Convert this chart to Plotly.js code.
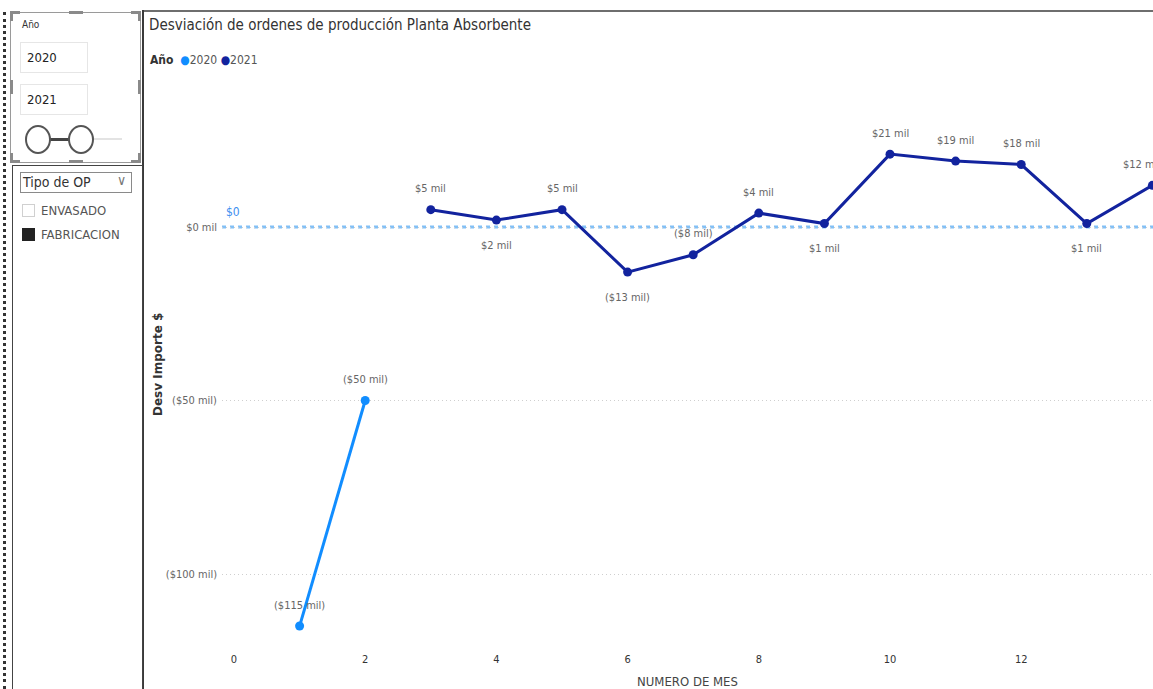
<!DOCTYPE html>
<html>
<head>
<meta charset="utf-8">
<script src="https://cdn.plot.ly/plotly-3.0.1.min.js"></script>
<style>
  html, body { margin:0; padding:0; background:#fff; width:1153px; height:689px; overflow:hidden; font-family:"DejaVu Sans Condensed","Liberation Sans Narrow",sans-serif; }
  #chart { position:absolute; left:0; top:0; width:1153px; height:689px; }
  .abs { position:absolute; box-sizing:border-box; }
  .txt { position:absolute; white-space:nowrap; }
</style>
</head>
<body>
<div id="chart"></div>

<!-- frame of the main visual -->
<div class="abs" style="left:143px; top:10px; width:1010px; height:2px; background:#6e6e6e;"></div>
<div class="abs" style="left:142px; top:10px; width:2px; height:679px; background:#3a3a3a;"></div>

<!-- dotted left border of the slicer panel -->
<div class="abs" style="left:3px; top:12px; width:0; height:677px; border-left:3px dotted #333;"></div>

<!-- slicer 1 : Año -->
<div class="abs" style="left:10px; top:12px; width:131px; height:151px; border:1px solid #9a9a9a;"></div>
<div class="abs" style="left:10px; top:11px; width:10px; height:3px; background:#8a8a8a;"></div>
<div class="abs" style="left:10px; top:11px; width:3px; height:10px; background:#8a8a8a;"></div>
<div class="abs" style="left:131px; top:11px; width:10px; height:3px; background:#8a8a8a;"></div>
<div class="abs" style="left:138px; top:11px; width:3px; height:10px; background:#8a8a8a;"></div>
<div class="abs" style="left:10px; top:160px; width:10px; height:3px; background:#8a8a8a;"></div>
<div class="abs" style="left:10px; top:153px; width:3px; height:10px; background:#8a8a8a;"></div>
<div class="abs" style="left:131px; top:160px; width:10px; height:3px; background:#8a8a8a;"></div>
<div class="abs" style="left:138px; top:153px; width:3px; height:10px; background:#8a8a8a;"></div>
<div class="abs" style="left:69px; top:11px; width:14px; height:3px; background:#8a8a8a;"></div>
<div class="abs" style="left:69px; top:160px; width:14px; height:3px; background:#8a8a8a;"></div>
<div class="abs" style="left:10px; top:80px; width:3px; height:14px; background:#8a8a8a;"></div>
<div class="abs" style="left:138px; top:80px; width:3px; height:14px; background:#8a8a8a;"></div>
<div class="txt" style="left:22px; top:19px; font-size:10px; color:#333;">Año</div>
<div class="abs" style="left:20px; top:42px; width:68px; height:31px; border:1px solid #e6e6e6;"></div>
<div class="txt" style="left:27px; top:50px; font-size:13px; color:#222;">2020</div>
<div class="abs" style="left:20px; top:84px; width:68px; height:31px; border:1px solid #e6e6e6;"></div>
<div class="txt" style="left:27px; top:92px; font-size:13px; color:#222;">2021</div>
<div class="abs" style="left:92px; top:138px; width:30px; height:2px; background:#e3e3e3;"></div>
<div class="abs" style="left:48px; top:138px; width:22px; height:3px; background:#444;"></div>
<div class="abs" style="left:25px; top:125px; width:26px; height:29px; border:2px solid #555; border-radius:50%; background:#fff;"></div>
<div class="abs" style="left:68px; top:125px; width:26px; height:29px; border:2px solid #555; border-radius:50%; background:#fff;"></div>

<!-- slicer 2 : Tipo de OP -->
<div class="abs" style="left:12px; top:165px; width:131px; height:530px; border:1px solid #444;"></div>
<div class="abs" style="left:20px; top:172px; width:112px; height:21px; border:1px solid #8a8a8a;"></div>
<div class="txt" style="left:23px; top:174px; font-size:14px; color:#333;">Tipo de OP</div>
<div class="txt" style="left:117px; top:172px; font-size:14px; color:#777;">&#8744;</div>
<div class="abs" style="left:22px; top:204px; width:13px; height:13px; border:1px solid #d0d0d0;"></div>
<div class="txt" style="left:41px; top:203px; font-size:13px; color:#555;">ENVASADO</div>
<div class="abs" style="left:22px; top:228px; width:13px; height:13px; background:#222;"></div>
<div class="txt" style="left:41px; top:227px; font-size:13px; color:#555;">FABRICACION</div>

<script>
// ---------------- data ----------------
const months2020 = [1, 2];
const values2020 = [-115, -50];
const months2021 = [3, 4, 5, 6, 7, 8, 9, 10, 11, 12, 13, 14];
const values2021 = [5, 2, 5, -13, -8, 4, 1, 21, 19, 18, 1, 12];
const legendYears = ['2020', '2021'];
const xTickVals = [0, 2, 4, 6, 8, 10, 12, 14];
const yTickVals = [0, -50, -100];
const yTickText = ['$0 mil', '($50 mil)', '($100 mil)'];
const refValue = 0;
const refLabel = '$0';

function fmt(v) { return v < 0 ? '($' + Math.abs(v) + ' mil)' : '$' + v + ' mil'; }

const FONT = '"DejaVu Sans Condensed","Liberation Sans Narrow",sans-serif';
const C2020 = '#118DFF', C2021 = '#12239E';

// label side for each 2021 point (true = above)
const above2021 = [true, false, true, false, true, true, false, true, true, true, false, true];

const traces = [
  { x: months2020, y: values2020, mode: 'lines+markers',
    line: {color: C2020, width: 3}, marker: {color: C2020, size: 9},
    showlegend: false, cliponaxis: false, hoverinfo: 'skip' },
  { x: months2021, y: values2021, mode: 'lines+markers',
    line: {color: C2021, width: 3}, marker: {color: C2021, size: 9},
    showlegend: false, cliponaxis: false, hoverinfo: 'skip' }
];

const L = 222, R = 0, T = 75, B = 44, W = 1153, H = 689;
const pw = W - L - R, ph = H - T - B;
const xr = [(L - 234) / 65.6, (W - 234) / 65.6];
const ppu = 3.47;
const yr = [-(T + ph - 227) / ppu, (227 - T) / ppu];

const labelFont = {family: FONT, size: 11, color: '#666'};
const dataLabels = [];
months2020.forEach((m, i) => dataLabels.push({
  x: m, y: values2020[i], xref: 'x', yref: 'y', text: fmt(values2020[i]), showarrow: false,
  yanchor: 'middle', yshift: 21, font: labelFont}));
months2021.forEach((m, i) => dataLabels.push({
  x: m, y: values2021[i], xref: 'x', yref: 'y', text: fmt(values2021[i]), showarrow: false,
  yanchor: 'middle', yshift: above2021[i] ? 21 : -25,
  xshift: i === months2021.length - 1 ? -11 : 0, font: labelFont}));

const legendText = '<b style="color:#333">Año</b>  ' +
  '<span style="color:' + C2020 + '">●</span>' + legendYears[0] + ' ' +
  '<span style="color:' + C2021 + '">●</span>' + legendYears[1];

const layout = {
  width: W, height: H,
  margin: {l: L, r: R, t: T, b: B},
  paper_bgcolor: 'rgba(0,0,0,0)', plot_bgcolor: 'rgba(0,0,0,0)',
  font: {family: FONT, color: '#666'},
  title: {text: 'Desviación de ordenes de producción Planta Absorbente',
          font: {family: FONT, size: 15, color: '#333'},
          xref: 'container', yref: 'container', x: 149 / W, y: 1 - 25 / H,
          xanchor: 'left', yanchor: 'middle'},
  showlegend: false,
  xaxis: {range: xr, tickvals: xTickVals, showgrid: false, zeroline: false, showline: false,
          tickfont: {family: FONT, size: 11, color: '#333'}, ticklabelstandoff: 6,
          title: {text: 'NUMERO DE MES', font: {family: FONT, size: 13, color: '#444'}, standoff: 11},
          fixedrange: true},
  yaxis: {range: yr, tickvals: yTickVals, ticktext: yTickText, showgrid: true, gridcolor: '#cfcfcf',
          griddash: '1px,3px', gridwidth: 1, zeroline: false, showline: false, ticklabelstandoff: 4,
          tickfont: {family: FONT, size: 11, color: '#666'}, fixedrange: true},
  shapes: [
    {type: 'line', xref: 'paper', x0: 0, x1: 1, yref: 'y', y0: refValue, y1: refValue,
     line: {color: '#82c0f6', width: 3, dash: '4px,4px'}, layer: 'below'}
  ],
  annotations: dataLabels.concat([
    {text: refLabel, xref: 'paper', x: (224 - L) / pw, xanchor: 'left', yref: 'y', y: refValue,
     yanchor: 'middle', yshift: 15, showarrow: false, font: {family: FONT, size: 12, color: '#3d8ef0'}},
    {text: '<b>Desv Importe $</b>', xref: 'paper', x: (158 - L) / pw, xanchor: 'center', yref: 'paper',
     y: (T + ph - 365) / ph, yanchor: 'middle', textangle: -90, showarrow: false,
     font: {family: '"DejaVu Sans", sans-serif', size: 12, color: '#333'}},
    {text: legendText, xref: 'paper', x: (148 - L) / pw, xanchor: 'left', yref: 'paper',
     y: (T + ph - 60) / ph, yanchor: 'middle', showarrow: false,
     font: {family: FONT, size: 12, color: '#555'}}
  ])
};

Plotly.newPlot('chart', traces, layout, {displayModeBar: false, staticPlot: true});
</script>
</body>
</html>
